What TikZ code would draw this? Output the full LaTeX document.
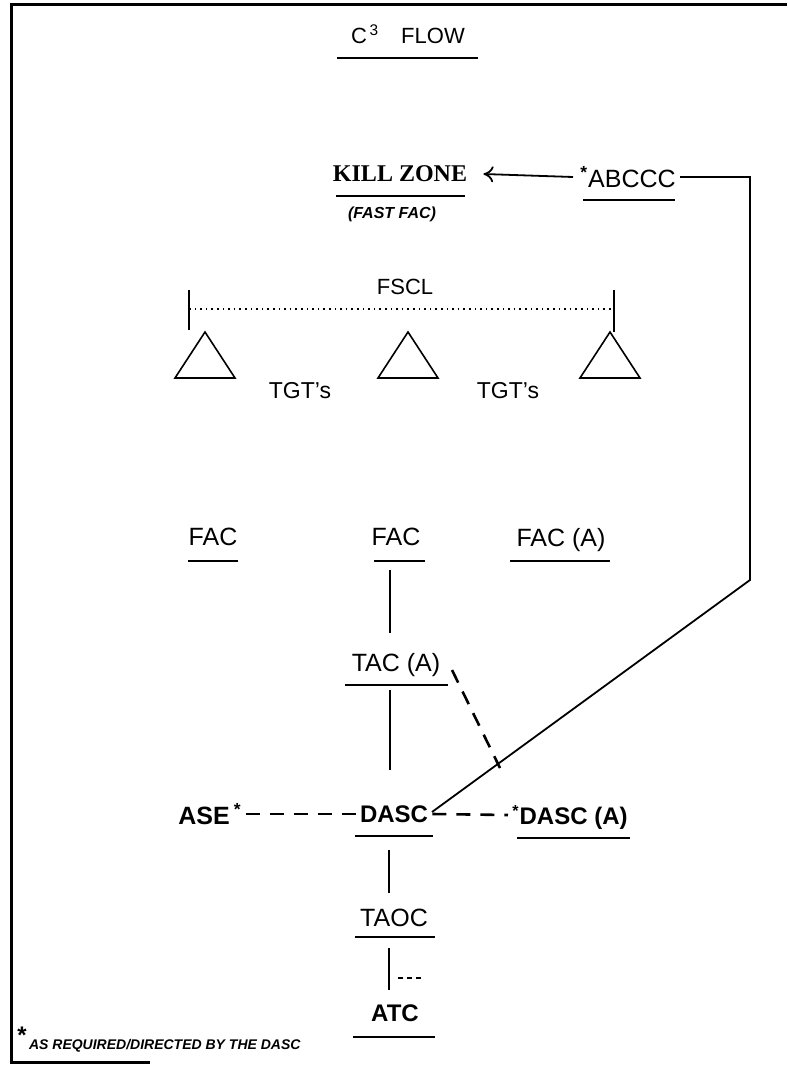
\documentclass[tikz,border=0pt]{standalone}
\usepackage{fontspec}
\setmainfont{Liberation Sans}
\newfontfamily\killfont{Liberation Serif}
\usetikzlibrary{positioning,arrows.meta}
\tikzset{
  lbl/.style={inner xsep=2pt, inner ysep=7pt, text depth=0pt, font=\fontsize{12.5}{14}\selectfont},
  hand/.style={inner sep=1pt, font=\bfseries\itshape\fontsize{7}{8}\selectfont},
  uline/.style={line width=1pt},
  link/.style={line width=0.9pt},
  dlink/.style={line width=1.3pt, dash pattern=on 7pt off 5pt}
}
\begin{document}
\begin{tikzpicture}[x=0.5pt, y=-0.5pt]
  \useasboundingbox (0,0) rectangle (787,1065);
  {\normalsize

  % Drawing frame
  \draw [line width=1.5pt] (787,5) -- (11,5) -- (11,1062) -- (150,1062);%

  % Title
  \node [lbl, font=\fontsize{11}{13}\selectfont] (title) at (408,34) {C\textsuperscript{\,3}\quad FLOW};%
  \draw [uline] (337,58) -- (478,58);%

  % Kill zone and ABCCC
  \node [lbl, font=\killfont\bfseries\fontsize{12}{14}\selectfont] (kill) at (400,174) {KILL ZONE};%
  \draw [uline] (336,196) -- (465,196);%
  \node [hand, font=\bfseries\itshape\fontsize{8}{9}\selectfont] (fastfac) at (392,214) {(FAST FAC)};%
  \node [lbl] (abccc) at (628,177) {\textsuperscript{\textbf{*}}ABCCC};%
  \draw [uline] (583,200) -- (675,200);%

  % FSCL
  \node [lbl, font=\fontsize{11}{13}\selectfont] (fscl) at (405,287) {FSCL};%
  \draw [line width=0.9pt] (189,290) -- (189,330);%
  \draw [line width=0.9pt] (614,290) -- (614,332);%
  \draw [line width=0.8pt, dotted] (189,309) -- (614,309);%

  % Marking targets by triangles
  \foreach \tx/\tn in {205/tgtA, 408/tgtB, 610/tgtC}
    \draw [line width=0.8pt] (\tx-30,378) -- (\tx,332) -- (\tx+30,378) -- cycle;%
  \node [lbl, font=\fontsize{11.5}{13}\selectfont] (tgtsA) at (300,390) {TGT's};%
  \node [lbl, font=\fontsize{11.5}{13}\selectfont] (tgtsB) at (508,390) {TGT's};%

  % FAC row
  \node [lbl] (facA) at (213,537) {FAC};%
  \draw [uline] (188,561) -- (238,561);%
  \node [lbl] (facB) at (396,537) {FAC};%
  \draw [uline] (374,561) -- (425,561);%
  \node [lbl] (facC) at (561,537) {FAC (A)};%
  \draw [uline] (510,561) -- (610,561);%

  % Command chain
  \node [lbl] (tac) at (396,662) {TAC (A)};%
  \draw [uline] (345,685) -- (448,685);%
  \node [lbl, font=\bfseries\fontsize{12}{14}\selectfont] (dasc) at (394,814) {DASC};%
  \draw [uline] (355,836) -- (433,836);%
  \node [lbl, font=\bfseries\fontsize{12.5}{14}\selectfont] (ase) at (210,814) {ASE\,\textsuperscript{*}};%
  \node [lbl, font=\bfseries\fontsize{12}{14}\selectfont] (dasca) at (570,815) {\textsuperscript{*}DASC (A)};%
  \draw [uline] (517,838) -- (630,838);%
  \node [lbl] (taoc) at (394,918) {TAOC};%
  \draw [uline] (355,937) -- (435,937);%
  \node [lbl, font=\bfseries\fontsize{12}{14}\selectfont] (atc) at (395,1013) {ATC};%
  \draw [uline] (353,1037) -- (435,1037);%

  % Footnote
  \node [hand, anchor=west] (note) at (14,1040) {\textsuperscript{\large *}\,AS REQUIRED/DIRECTED BY THE DASC};%

  % Drawing solid links
  \draw [link] (facB.south -| 390,0) ++(0,10) -- (390,633);%
  \draw [link] (390,690) -- (390,770);%
  \draw [link] (389,850) -- (389,893);%
  \draw [link] (389,948) -- (389,990);%
  \draw [line width=0.8pt, dash pattern=on 2.5pt off 2pt] (398,978) -- (422,978);%

  % Drawing ABCCC link to DASC
  \coordinate (abcccR) at (750,177);%
  \coordinate (abcccD) at (750,580);%
  \draw [link] (abccc.east) -- (abcccR) -- (abcccD) -- (432,812);%
  \draw [link, -{To[length=5pt, width=8pt]}] (573,177) -- ([xshift=6pt]kill.east);%

  % Drawing dashed links
  \draw [dlink] (ase.east) -- (dasc.west);%
  \draw [dlink] (dasc.east) -- (dasca.west);%
  \draw [dlink] (452,670) -- (500,768);%
  }
\end{tikzpicture}
\end{document}
